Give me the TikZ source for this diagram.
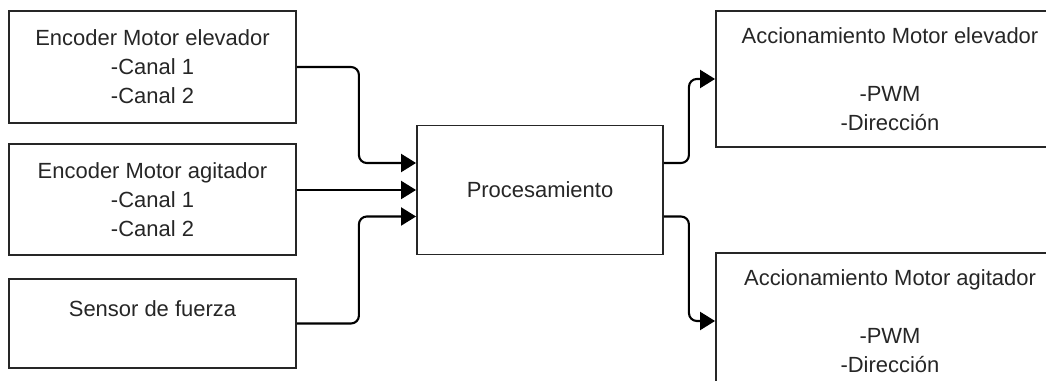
\documentclass[tikz,border=0pt]{standalone}
\usepackage{fontspec}
\setmainfont{Liberation Sans}
\usetikzlibrary{arrows.meta}
\begin{document}
\begin{tikzpicture}[x=0.02cm, y=-0.02cm,
		box/.style={draw=black!85, line width=1.1pt, align=center, inner sep=0pt,
			text=black!85, font=\fontsize{12.5}{16.5}\selectfont},
		conn/.style={line width=1.2pt, rounded corners=4.5pt,
			-{Triangle[length=0.3cm, width=0.36cm]}}]
	\useasboundingbox (0,0) rectangle (1046,381);
	\clip (0,0) rectangle (1046,381);

	% Inputs
	\node[box, minimum width=5.74cm, minimum height=2.24cm] (encElev) at (152.5,67)
		{Encoder Motor elevador\\-Canal 1\\-Canal 2};
	\node[box, minimum width=5.74cm, minimum height=2.22cm] (encAgit) at (152.5,199.5)
		{Encoder Motor agitador\\-Canal 1\\-Canal 2};
	\node[box, minimum width=5.74cm, minimum height=1.78cm] (sensor) at (152.5,323.5)
		{Sensor de fuerza\\~};

	% Processing
	\node[box, minimum width=4.92cm, minimum height=2.58cm] (proc) at (540,190)
		{Procesamiento};

	% Outputs
	\node[box, minimum width=6.96cm, minimum height=2.72cm] (actElev) at (890,79)
		{Accionamiento Motor elevador\\~\\-PWM\\-Dirección};
	\node[box, minimum width=6.96cm, minimum height=2.72cm] (actAgit) at (890,321)
		{Accionamiento Motor agitador\\~\\-PWM\\-Dirección};

	% Connections
	\draw[conn] (encElev.east) -- ++(62,0) |- ([yshift=0.54cm]proc.west);
	\draw[conn] (encAgit.east |- proc.west) -- (proc.west);
	\draw[conn] (sensor.east) -- ++(62,0) |- ([yshift=-0.53cm]proc.west);
	\draw[conn] ([yshift=0.54cm]proc.east) -- ++(25,0) |- (actElev.west);
	\draw[conn] ([yshift=-0.53cm]proc.east) -- ++(25,0) |- (actAgit.west);
\end{tikzpicture}
\end{document}
